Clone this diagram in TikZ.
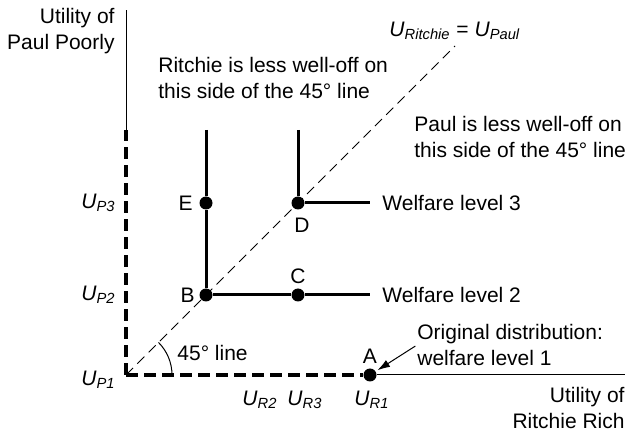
\documentclass[tikz,border=0pt]{standalone}
\usepackage{fontspec}
\setmainfont{Liberation Sans}
\usetikzlibrary{arrows.meta}
\newcommand{\util}[1]{\textit{U}\textsubscript{\textit{#1}}}

\begin{document}
\begin{tikzpicture}[x=0.5pt,y=0.5pt,
  font=\fontsize{10.5}{13}\selectfont,
  axis/.style={draw=black,line width=0.5pt},
  bound/.style={draw=black,line width=1.6pt,dash pattern=on 6pt off 3pt},
  level/.style={draw=black,line width=1.5pt},
  diag/.style={draw=black,line width=0.5pt,dash pattern=on 5pt off 3pt},
  dot/.style={circle,fill=black,inner sep=0pt,minimum size=6.5pt},
  lbl/.style={inner sep=2pt},
  txt/.style={align=left,inner sep=0pt},
  pointer/.style={-{Latex[length=2.2mm,width=1.4mm]},line width=0.5pt,
    shorten <=1pt,shorten >=1pt}]
\useasboundingbox (-126,-59) rectangle (501,375);

% axes and the 45 degree line
\coordinate (O) at (0,0);
\coordinate (ytop) at (0,365);
\coordinate (ymid) at (0,245);
\coordinate (xend) at (499,0);
\coordinate (diagend) at (329,329);
\coordinate (Btop) at (80,245);
\coordinate (Dtop) at (172,245);
\coordinate (w2end) at (244,80);
\coordinate (w3end) at (244,172);

\node[dot] (A) at (244,0) {};
\node[dot] (B) at (80,80) {};
\node[dot] (C) at (172,80) {};
\node[dot] (D) at (172,172) {};
\node[dot] (E) at (80,172) {};

\draw[axis] (ymid)--(ytop);
\draw[axis] (A)--(xend);
\draw[bound] (O)--(ymid);
\draw[bound] (O)--(A);
\draw[diag] (O)--(diagend);
\draw[axis] ([xshift=23pt]O) arc[start angle=0,end angle=45,radius=23pt];

% welfare levels
\draw[level] (Btop)--(E)--(B)--(C)--(w2end);
\draw[level] (Dtop)--(D)--(w3end);

\node[lbl,anchor=south] (Alab) at (A.north) {A};
\node[lbl,anchor=east] (Blab) at (B.west) {B};
\node[lbl,anchor=south] (Clab) at (C.north) {C};
\node[lbl,anchor=north] (Dlab) at ([xshift=2pt,yshift=-2pt]D.south) {D};
\node[lbl,anchor=east] (Elab) at ([xshift=-1pt]E.west) {E};

\node[lbl,anchor=east] (up3) at (-6,172) {\util{P3}};
\node[lbl,anchor=east] (up2) at (-6,80) {\util{P2}};
\node[lbl,anchor=east] (up1) at (-6,-5) {\util{P1}};
\node[lbl] (ur2) at (134,-25) {\util{R2}};
\node[lbl] (ur3) at (179,-25) {\util{R3}};
\node[lbl] (ur1) at (246,-25) {\util{R1}};

\node[txt,align=right,anchor=east] (yname) at (-11,344) {Utility of\\Paul Poorly};
\node[txt,align=right,anchor=east] (xname) at (499,-33) {Utility of\\Ritchie Rich};
\node[txt,anchor=west] (ritchie) at (32,297) {Ritchie is less well-off on\\this side of the 45° line};
\node[txt,anchor=west] (paul) at (288,238) {Paul is less well-off on\\this side of the 45° line};
\node[lbl,anchor=south] (eqn) at ([yshift=1pt]diagend) {\util{Ritchie} = \util{Paul}};
\node[txt,anchor=west] (w3) at (256,172) {Welfare level 3};
\node[txt,anchor=west] (w2) at (256,80) {Welfare level 2};
\node[txt,anchor=west] (ang) at (51,22) {45° line};
\node[txt,anchor=west] (orig) at (291,30) {Original distribution:\\welfare level 1};

\draw[pointer] (orig.west)--(A);
\end{tikzpicture}
\end{document}
